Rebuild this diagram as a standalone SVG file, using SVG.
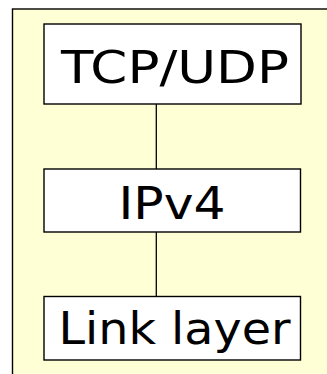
<svg xmlns="http://www.w3.org/2000/svg" width="327" height="374" viewBox="0 0 327 374">
<style>
.frame{fill:#ffffd6;stroke:#000;stroke-width:1.4}
.box rect{fill:#fff;stroke:#000;stroke-width:1.4}
.box text{font-family:"DejaVu Sans","Verdana",sans-serif;font-size:44px;fill:#000}
.conn line{stroke:#000;stroke-width:1.3}
</style>
<rect width="327" height="374" fill="#fff"/>
<rect class="frame" x="12.5" y="9" width="330" height="380"/>
<g class="conn" id="connectors">
<line x1="156.3" y1="104" x2="156.3" y2="169"/>
<line x1="156.3" y1="232" x2="156.3" y2="296.5"/>
</g>
<g class="box" id="tcpudp">
<rect x="44" y="24" width="257" height="80"/>
<text x="61" y="83.3" textLength="228" lengthAdjust="spacingAndGlyphs">TCP/UDP</text>
</g>
<g class="box" id="ipv4">
<rect x="44" y="169" width="256.5" height="63"/>
<text x="118.5" y="218.5" textLength="107" lengthAdjust="spacingAndGlyphs">IPv4</text>
</g>
<g class="box" id="linklayer">
<rect x="44" y="296.5" width="256.5" height="63.5"/>
<text x="58.5" y="343.5" textLength="232" lengthAdjust="spacingAndGlyphs">Link layer</text>
</g>
</svg>
